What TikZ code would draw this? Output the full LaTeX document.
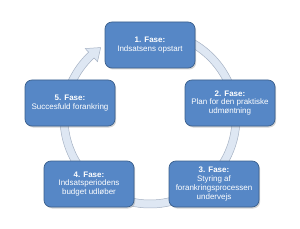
\documentclass[tikz,border=0pt]{standalone}
\usepackage{fontspec}
\setmainfont{Liberation Sans}
\usetikzlibrary{shadows}

\definecolor{boxfill}{RGB}{86,135,198}
\definecolor{boxline}{RGB}{58,95,140}
\definecolor{ringfill}{RGB}{222,231,243}
\definecolor{ringline}{RGB}{165,177,195}

\tikzset{
  fase/.style={draw=boxline, line width=0.7pt, fill=boxfill, rounded corners=7pt,
    minimum width=90pt, minimum height=46pt, align=center, text=white,
    font=\fontsize{8}{8.8}\selectfont,
    drop shadow={opacity=0.35, shadow xshift=1.2pt, shadow yshift=-1.5pt}},
  ring/.style={fill=ringfill, draw=ringline, line width=0.5pt}
}

\begin{document}
\begin{tikzpicture}[x=1pt,y=1pt]

\useasboundingbox (0,0) rectangle (300,228);

% Ring with arrow head at the top left
\begin{scope}[shift={(150,110)}]
\draw[ring] (80:90) arc[start angle=80, end angle=-227, radius=90]
  -- (-227:95) -- (-235:86) -- (-227:77) -- (-227:82)
  arc[start angle=-227, end angle=80, radius=82] -- cycle;
\end{scope}

% Phases
\node[fase] (f1) at (150,183) {\textbf{1. Fase:}\\Indsatsens opstart};
\node[fase] (f2) at (230,125) {\textbf{2. Fase:}\\Plan for den praktiske\\udmøntning};
\node[fase] (f3) at (214,44) {\textbf{3. Fase:}\\Styring af\\forankringsprocessen\\undervejs};
\node[fase] (f4) at (89,44) {\textbf{4. Fase:}\\Indsatsperiodens\\budget udløber};
\node[fase] (f5) at (70,125) {\textbf{5. Fase:}\\Succesfuld forankring};

\end{tikzpicture}
\end{document}
